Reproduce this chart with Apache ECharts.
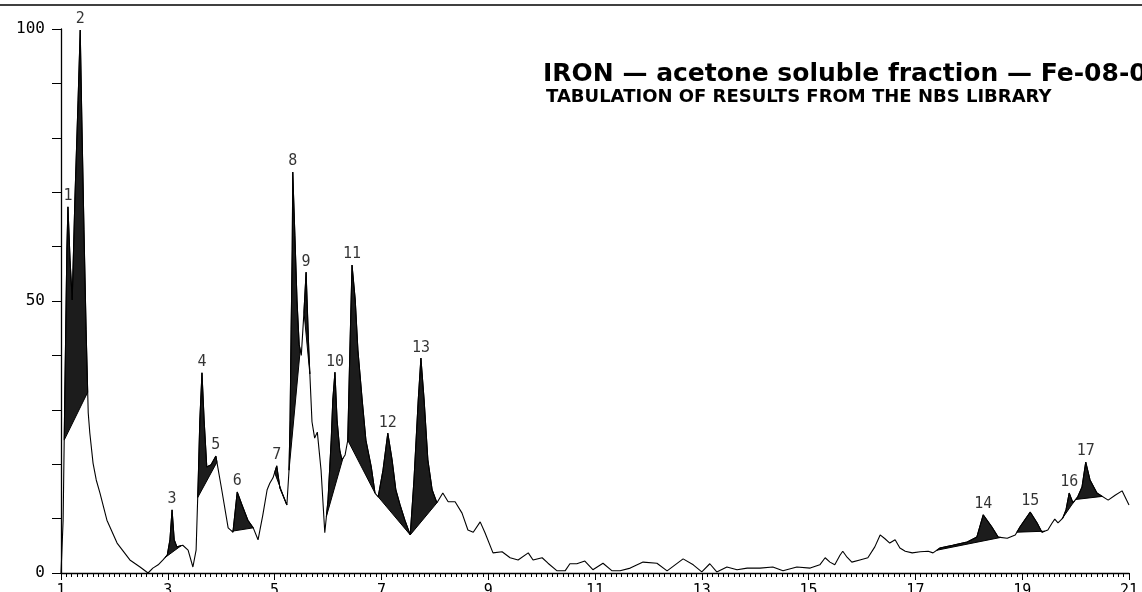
<!DOCTYPE html>
<html>
<head>
<meta charset="utf-8">
<script src="https://cdn.jsdelivr.net/npm/echarts@6/dist/echarts.min.js"></script>
<style>
html,body{margin:0;padding:0;background:#fff;}
#chart{width:1142px;height:592px;}
</style>
</head>
<body>
<div id="chart"></div>
<script>
// Retention time (min) of traced chromatogram points
const times = [
1.00,1.04,1.07,1.11,1.13,1.17,1.21,1.26,1.32,1.36,1.39,1.43,1.47,1.51,1.54,1.60,1.66,1.73,1.86,2.05,
2.29,2.48,2.63,2.72,2.82,2.91,2.99,3.04,3.08,3.12,3.17,3.28,3.38,3.47,3.53,3.57,3.60,3.64,3.68,3.73,
3.81,3.90,4.01,4.13,4.22,4.30,4.39,4.50,4.60,4.69,4.78,4.86,4.91,4.97,5.04,5.10,5.23,5.27,5.29,5.31,
5.33,5.34,5.38,5.42,5.46,5.50,5.55,5.59,5.64,5.70,5.75,5.80,5.87,5.94,6.00,6.06,6.09,6.13,6.17,6.22,
6.26,6.32,6.37,6.41,6.45,6.51,6.56,6.64,6.71,6.81,6.88,6.94,7.03,7.12,7.20,7.27,7.35,7.44,7.54,7.61,
7.69,7.74,7.80,7.87,7.95,8.04,8.15,8.25,8.38,8.51,8.62,8.72,8.85,8.94,9.09,9.26,9.41,9.56,9.75,9.84,
10.01,10.12,10.29,10.44,10.53,10.66,10.81,10.96,11.15,11.32,11.47,11.66,11.90,12.16,12.35,12.50,12.65,12.84,13.00,13.15,
13.28,13.47,13.66,13.85,14.09,14.33,14.52,14.78,15.03,15.21,15.31,15.40,15.49,15.59,15.64,15.72,15.81,15.96,16.11,16.24,
16.34,16.43,16.52,16.62,16.71,16.81,16.94,17.09,17.24,17.33,17.46,17.70,17.97,18.15,18.27,18.43,18.55,18.72,18.87,18.96,
19.15,19.28,19.37,19.48,19.56,19.61,19.67,19.76,19.82,19.88,19.95,20.04,20.12,20.19,20.27,20.40,20.61,20.74,20.87,21.00
];
// Relative abundance (%) at those times
const abundance = [
0,9.7,31.8,59.4,67.3,57.5,50.2,68.6,86.9,99.8,83.3,63.1,44.7,29.4,25.7,20.2,17.1,14.7,9.7,5.5,
2.4,1.1,0,0.9,1.5,2.4,3.3,6.1,11.6,6.1,4.8,5.1,4.2,1.1,4.2,17.1,28.1,36.8,28.1,19.5,
19.9,21.5,15.3,8.3,7.5,14.9,12.5,9.7,8.3,6.1,10.7,15.3,16.5,17.5,19.7,15.6,12.5,18.9,28.1,44.7,
59.4,73.7,62.0,50.0,42.0,40.0,48.0,55.3,41.0,27.8,24.8,25.9,18.9,7.4,13.4,24.4,31.8,36.9,28.1,22.6,
20.8,21.7,24.4,41.0,56.6,50.2,41.0,31.8,24.4,19.5,14.7,14.0,18.9,25.7,20.8,15.3,12.5,9.7,7.0,17.1,
31.8,39.5,31.8,20.8,15.3,12.9,14.7,13.1,13.1,11.0,7.9,7.5,9.4,7.4,3.7,3.9,2.8,2.4,3.7,2.4,
2.8,1.8,0.4,0.4,1.7,1.7,2.2,0.6,1.8,0.4,0.4,0.9,2.0,1.8,0.4,1.5,2.6,1.5,0.2,1.7,
0.2,1.1,0.6,0.9,0.9,1.1,0.4,1.1,0.9,1.5,2.8,2.0,1.5,3.3,4.0,2.9,2.0,2.4,2.8,4.8,
7.0,6.3,5.5,6.1,4.6,4.0,3.7,3.9,4.0,3.7,4.6,5.1,5.7,6.6,10.7,8.5,6.6,6.4,7.0,8.5,
11.2,9.2,7.5,7.9,9.2,9.9,9.2,10.1,11.6,14.7,12.9,14.0,15.8,20.4,17.1,14.7,13.4,14.3,15.1,12.5
];
// Integrated (shaded) peak windows
const fillStart = [1.06,2.95,3.56,4.20,5.00,5.27,5.55,5.97,6.37,6.94,7.54,17.40,18.90,19.75,20.00];
const fillEnd   = [1.50,3.25,3.92,4.60,5.23,5.48,5.66,6.28,6.88,7.54,8.04,18.60,19.42,19.98,20.50];
// Peak numbers and apex positions
const peakLabels = ['1','2','3','4','5','6','7','8','9','10','11','12','13','14','15','16','17'];
const peakTimes  = [1.13,1.36,3.08,3.64,3.90,4.30,5.04,5.34,5.59,6.13,6.45,7.12,7.74,18.27,19.15,19.88,20.19];
const peakValues = [67.3,99.8,11.6,36.8,21.5,14.9,19.7,73.7,55.3,36.9,56.6,25.7,39.5,10.7,11.2,14.7,20.4];
// Axis settings
const xMin = 1, xMax = 21, xStep = 2;
const yMin = 0, yMax = 100, yStep = 10;
const yLabelValues = [0, 50, 100];

function interp(t) {
  for (let i = 1; i < times.length; i++) {
    if (times[i] >= t) {
      const f = (t - times[i-1]) / (times[i] - times[i-1]);
      return abundance[i-1] + f * (abundance[i] - abundance[i-1]);
    }
  }
  return abundance[abundance.length - 1];
}

const chart = echarts.init(document.getElementById('chart'), null, {renderer: 'canvas'});
const mono = 'DejaVu Sans Mono';

const option = {
  animation: false,
  backgroundColor: '#ffffff',
  grid: {left: 61, right: 13, top: 29, bottom: 19, containLabel: false, outerBoundsMode: 'none'},
  xAxis: {
    type: 'value', min: xMin, max: xMax, interval: xStep,
    axisLine: {show: true, lineStyle: {color: '#000', width: 1.3}},
    axisTick: {show: true, length: 7, lineStyle: {color: '#000', width: 1}},
    minorTick: {show: true, splitNumber: 20, length: 4, lineStyle: {color: '#000', width: 1}},
    axisLabel: {color: '#000', fontFamily: mono, fontSize: 15, margin: 11},
    splitLine: {show: false}
  },
  yAxis: {
    type: 'value', min: yMin, max: yMax, interval: yStep,
    axisLine: {show: true, lineStyle: {color: '#000', width: 1.3}},
    axisTick: {show: true, length: 9, lineStyle: {color: '#000', width: 1}},
    axisLabel: {color: '#000', fontFamily: mono, fontSize: 16, margin: 16,
      formatter: v => (yLabelValues.indexOf(v) >= 0 ? String(v) : '')},
    splitLine: {show: false}
  },
  series: [
    {
      type: 'custom',
      z: 1,
      data: fillStart.map((s, i) => [s, fillEnd[i]]),
      clip: true,
      renderItem: function (params, api) {
        const i = params.dataIndex;
        const s = fillStart[i], e = fillEnd[i];
        const pts = [api.coord([s, interp(s)])];
        for (let k = 0; k < times.length; k++) {
          if (times[k] > s && times[k] < e) pts.push(api.coord([times[k], abundance[k]]));
        }
        pts.push(api.coord([e, interp(e)]));
        return {type: 'polygon', shape: {points: pts},
          style: {fill: '#1c1c1c', stroke: '#000', lineWidth: 1}};
      }
    },
    {
      type: 'line',
      z: 2,
      data: times.map((t, i) => [t, abundance[i]]),
      showSymbol: false,
      symbol: 'none',
      lineStyle: {color: '#000', width: 1.1},
      silent: true
    },
    {
      type: 'scatter',
      z: 3,
      symbolSize: 0,
      data: peakTimes.map((t, i) => [t, peakValues[i]]),
      label: {
        show: true, position: 'top', distance: 3,
        color: '#000', fontFamily: mono, fontSize: 15,
        formatter: p => peakLabels[p.dataIndex]
      },
      silent: true
    }
  ],
  graphic: [
    {type: 'line', shape: {x1: 0, y1: 5, x2: 1142, y2: 5}, style: {stroke: '#000', lineWidth: 1.5}},
    {type: 'text', left: 543, top: 62,
      style: {text: 'IRON — acetone soluble fraction — Fe-08-0', font: 'bold 25px "DejaVu Sans"', fill: '#000'}},
    {type: 'text', left: 546, top: 88,
      style: {text: 'TABULATION OF RESULTS FROM THE NBS LIBRARY', font: 'bold 18px "DejaVu Sans"', fill: '#000'}}
  ]
};
chart.setOption(option);
</script>
</body>
</html>
